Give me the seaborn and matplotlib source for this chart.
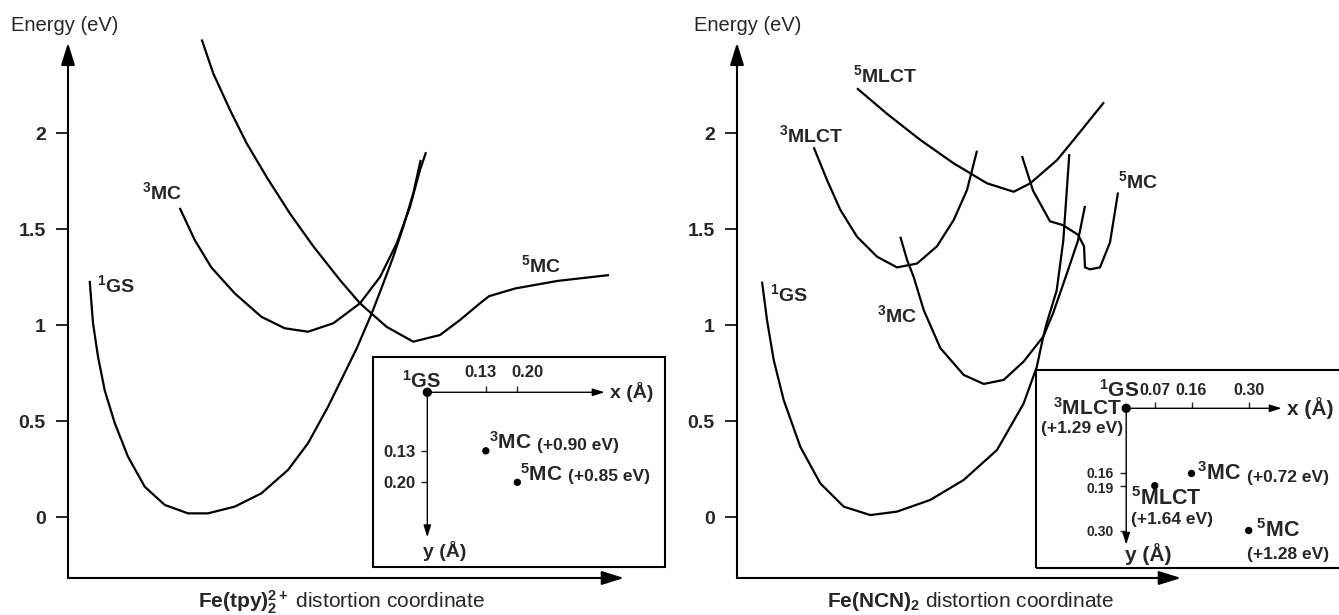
import matplotlib
matplotlib.use("Agg")
import matplotlib.pyplot as plt
from matplotlib.patches import Rectangle
from matplotlib.transforms import ScaledTranslation
import seaborn as sns

# ---------------- data ----------------
# left panel, Fe(tpy)2 2+ : distortion coordinate (arb. units) vs energy (eV)
tpy_gs_x = [21.7, 25, 30, 36.7, 46.7, 60, 76.7, 96.7, 120, 140, 166.7, 193.3, 220, 240, 260,
            288.7, 303.7, 315.3, 325.3, 335.3, 345.3, 352.7]
tpy_gs_e = [1.23, 1.01, 0.835, 0.66, 0.49, 0.314, 0.158, 0.063, 0.019, 0.019, 0.054, 0.123, 0.245,
            0.384, 0.574, 0.878, 1.06, 1.217, 1.356, 1.512, 1.686, 1.86]
tpy_3mc_x = [111.7, 126.7, 143.3, 166.7, 193.3, 216.7, 240, 265.3, 292, 312, 328.7, 342, 352, 358]
tpy_3mc_e = [1.61, 1.443, 1.30, 1.165, 1.043, 0.983, 0.965, 1.009, 1.113, 1.25, 1.425, 1.616, 1.807, 1.90]
tpy_5mc_x = [133.7, 145.3, 162, 178.7, 198.7, 222, 245.3, 272, 292, 318.7, 345.3, 372, 392, 412,
             421, 447, 490, 541]
tpy_5mc_e = [2.487, 2.31, 2.12, 1.946, 1.77, 1.58, 1.41, 1.234, 1.113, 0.99, 0.913, 0.948, 1.026,
             1.113, 1.15, 1.19, 1.23, 1.26]

# right panel, Fe(NCN)2
ncn_gs_x = [25, 30, 36.7, 46.7, 63.3, 83.3, 106.7, 133.3, 160, 193.3, 226.7, 260, 286.5, 299.7,
            306.3, 309.7, 319.7, 326.3, 332.3]
ncn_gs_e = [1.226, 1.026, 0.818, 0.609, 0.366, 0.175, 0.054, 0.01, 0.028, 0.089, 0.193, 0.349,
            0.59, 0.78, 0.94, 1.01, 1.18, 1.44, 1.89]
ncn_3mc_x = [163.3, 170, 176.7, 186.7, 203.3, 226.7, 246.7, 266.7, 286.7, 306.3, 316, 330, 341, 348]
ncn_3mc_e = [1.46, 1.34, 1.25, 1.078, 0.88, 0.74, 0.693, 0.714, 0.81, 0.94, 1.06, 1.27, 1.44, 1.62]
ncn_3mlct_x = [76.7, 90, 103.3, 120, 140, 160, 180, 200, 216.7, 230, 240]
ncn_3mlct_e = [1.926, 1.755, 1.60, 1.46, 1.356, 1.30, 1.32, 1.41, 1.547, 1.703, 1.908]
ncn_5mlct_x = [120, 150, 183.3, 216.7, 250, 276.7, 293.3, 320, 336, 367]
ncn_5mlct_e = [2.233, 2.10, 1.964, 1.842, 1.738, 1.694, 1.738, 1.859, 1.96, 2.16]
ncn_5mc_x = [285, 296, 313, 326, 341, 347, 348, 353, 363, 373, 381]
ncn_5mc_e = [1.88, 1.70, 1.54, 1.52, 1.47, 1.41, 1.30, 1.29, 1.30, 1.43, 1.69]

energy_ticks = [0, 0.5, 1, 1.5, 2]
energy_ticklabels = ["0", "0.5", "1", "1.5", "2"]

# insets: displacement (Å) of each minimum relative to 1GS
tpy_states = ["$^{\\mathbf{3}}$MC", "$^{\\mathbf{5}}$MC"]
tpy_dx = [0.13, 0.20]
tpy_dy = [0.13, 0.20]
tpy_rel_e = ["(+0.90 eV)", "(+0.85 eV)"]
tpy_xticks = [0.13, 0.20]
tpy_yticks = [0.13, 0.20]

ncn_states = ["$^{\\mathbf{3}}$MC", "$^{\\mathbf{5}}$MLCT", "$^{\\mathbf{5}}$MC"]
ncn_dx = [0.16, 0.07, 0.30]
ncn_dy = [0.16, 0.19, 0.30]
ncn_rel_e = ["(+0.72 eV)", "(+1.64 eV)", "(+1.28 eV)"]
ncn_xticks = [0.07, 0.16, 0.30]
ncn_yticks = [0.16, 0.19, 0.30]

# ---------------- style ----------------
sns.set_style("white")
plt.rcParams["font.family"] = ["Liberation Sans", "DejaVu Sans"]
plt.rcParams["mathtext.fontset"] = "custom"
plt.rcParams["mathtext.rm"] = "Liberation Sans"
plt.rcParams["mathtext.bf"] = "Liberation Sans:bold"
plt.rcParams["mathtext.it"] = "Liberation Sans:italic"

W, H = 1339, 615
fig = plt.figure(figsize=(W / 100, H / 100), dpi=100)
fig.patch.set_facecolor("white")


def px_axes(x0, y0, x1, y1):
    return fig.add_axes([x0 / W, 1 - y1 / H, (x1 - x0) / W, (y1 - y0) / H])


def nudge(label, dx_pt, dy_pt):
    label.set_transform(label.get_transform() + ScaledTranslation(dx_pt / 72, dy_pt / 72, fig.dpi_scale_trans))


E_TOP, E_BOT = 2.5, -0.3177


def main_panel(ax, curves, labels, xmax, xlabel, xlabel_x, elabel_x):
    for xs, es in curves:
        sns.lineplot(x=xs, y=es, sort=False, estimator=None, color="black", lw=1.6, ax=ax,
                     solid_joinstyle="round", solid_capstyle="butt")
    ax.set_xlim(0, xmax)
    ax.set_ylim(E_BOT, E_TOP)
    for s in ax.spines.values():
        s.set_visible(False)
    ax.set_xticks([])
    ax.set_yticks(energy_ticks)
    ax.set_yticklabels(energy_ticklabels, fontweight="bold", fontsize=14)
    ax.tick_params(axis="y", direction="out", length=9, width=1.2, pad=7, left=True, color="black")
    ax.set_xlabel("")
    ax.set_ylabel("")
    # arrow axes
    head = dict(arrowstyle="-|>,head_length=0.9,head_width=0.28", color="black",
                lw=1.5, mutation_scale=15, shrinkA=0, shrinkB=0)
    ax.annotate("", xy=(0, 2.47), xytext=(0, E_BOT), xycoords="data", arrowprops=head,
                annotation_clip=False)
    ax.annotate("", xy=(xmax, E_BOT), xytext=(0, E_BOT), xycoords="data", arrowprops=head,
                annotation_clip=False)
    for txt, x, e in labels:
        ax.text(x, e, txt, fontweight="bold", fontsize=14, ha="left", va="center")
    ax.text(elabel_x, E_TOP + 0.06, "Energy (eV)", fontsize=14.5, ha="left", va="center", clip_on=False)
    ax.text(xlabel_x, -0.044, xlabel, fontsize=15, ha="center", va="center",
            transform=ax.transAxes, clip_on=False)


ax_l = px_axes(68, 37, 624, 578)
main_panel(ax_l,
           [(tpy_gs_x, tpy_gs_e), (tpy_3mc_x, tpy_3mc_e), (tpy_5mc_x, tpy_5mc_e)],
           [("$^{\\mathbf{1}}$GS", 29, 1.21), ("$^{\\mathbf{3}}$MC", 74, 1.69), ("$^{\\mathbf{5}}$MC", 453, 1.31)],
           556, "$\\mathbf{Fe(tpy)}_{\\mathbf{2}}^{\\mathbf{2+}}$ distortion coordinate", 0.491, -57)

ax_r = px_axes(737, 37, 1181, 578)
main_panel(ax_r,
           [(ncn_gs_x, ncn_gs_e), (ncn_3mc_x, ncn_3mc_e), (ncn_3mlct_x, ncn_3mlct_e),
            (ncn_5mlct_x, ncn_5mlct_e), (ncn_5mc_x, ncn_5mc_e)],
           [("$^{\\mathbf{1}}$GS", 33, 1.16), ("$^{\\mathbf{3}}$MC", 140, 1.05),
            ("$^{\\mathbf{3}}$MLCT", 42, 1.99), ("$^{\\mathbf{5}}$MLCT", 116, 2.30),
            ("$^{\\mathbf{5}}$MC", 381, 1.75)],
           444, "$\\mathbf{Fe(NCN)}_{\\mathbf{2}}$ distortion coordinate", 0.527, -43)


def inset(ax, xlim, ylim, x_end, y_end, xticks, yticks, xpad, ypad, xtick_fs, ytick_fs):
    ax.set_xlim(*xlim)
    ax.set_ylim(*ylim)
    ax.set_facecolor("white")
    ax.add_patch(Rectangle((0, 0), 1, 1, transform=ax.transAxes, fill=False, lw=1.5,
                           edgecolor="black", clip_on=False))
    for s in ax.spines.values():
        s.set_visible(False)
    ax.spines["top"].set_position(("data", 0))
    ax.spines["left"].set_position(("data", 0))
    ax.xaxis.tick_top()
    ax.set_xticks(xticks)
    ax.set_xticklabels([f"{v:.2f}" for v in xticks], fontweight="bold", fontsize=xtick_fs)
    ax.set_yticks(yticks)
    ax.set_yticklabels([f"{v:.2f}" for v in yticks], fontweight="bold", fontsize=ytick_fs)
    ax.tick_params(axis="x", direction="out", length=4, width=1, pad=xpad, top=True, bottom=False)
    ax.tick_params(axis="y", direction="out", length=4, width=1, pad=ypad, left=True)
    ax.set_xlabel("")
    ax.set_ylabel("")
    arrow = dict(arrowstyle="-|>,head_length=0.8,head_width=0.25", color="black", lw=1,
                 mutation_scale=9, shrinkA=0, shrinkB=0)
    ax.annotate("", xy=(x_end, 0), xytext=(0, 0), arrowprops=arrow)
    ax.annotate("", xy=(0, y_end), xytext=(0, 0), arrowprops=arrow)


# left inset
ax_li = px_axes(373.3, 356.7, 665, 567)
inset(ax_li, (-0.120, 0.528), (0.388, -0.079), 0.394, 0.322, tpy_xticks, tpy_yticks, 5, 4.5, 12, 12)
# the two x tick labels sit apart from their ticks in the reference
xl = ax_li.get_xticklabels()
nudge(xl[0], -4, 0)
nudge(xl[1], 7, 0)
sns.scatterplot(x=[0], y=[0], s=45, color="black", edgecolor="none", ax=ax_li)
sns.scatterplot(x=tpy_dx, y=tpy_dy, s=28, color="black", edgecolor="none", ax=ax_li)
ax_li.annotate("$^{\\mathbf{1}}$GS", xy=(0, 0), xytext=(-4, 8.5), textcoords="offset points",
               fontsize=14.5, fontweight="bold", ha="center", va="center")
ax_li.annotate("x (Å)", xy=(0.394, 0), xytext=(4, 0), textcoords="offset points",
               fontsize=14, fontweight="bold", ha="left", va="center")
ax_li.annotate("y (Å)", xy=(0, 0.322), xytext=(-3, -10), textcoords="offset points",
               fontsize=14, fontweight="bold", ha="left", va="center")
for st, x, y, rel in zip(tpy_states, tpy_dx, tpy_dy, tpy_rel_e):
    t = ax_li.annotate(st, xy=(x, y), xytext=(2, -1.5), textcoords="offset points",
                       fontsize=15, fontweight="bold", ha="left", va="bottom")
    ax_li.annotate(rel, xy=(1, 0), xycoords=t, xytext=(4, 0), textcoords="offset points",
                   fontsize=12.5, fontweight="bold", ha="left", va="bottom")

# right inset
ax_ri = px_axes(1036, 370, 1345, 568)
inset(ax_ri, (-0.221, 0.536), (0.392, -0.094), 0.381, 0.335, ncn_xticks, ncn_yticks, 3.6, 4.8, 11.5, 10)
yl = ax_ri.get_yticklabels()
nudge(yl[0], 0, 1)
nudge(yl[1], 0, -1.5)
sns.scatterplot(x=[0], y=[0], s=45, color="black", edgecolor="none", ax=ax_ri)
sns.scatterplot(x=ncn_dx, y=ncn_dy, s=28, color="black", edgecolor="none", ax=ax_ri)
ax_ri.annotate("$^{\\mathbf{1}}$GS", xy=(0, 0), xytext=(-5, 13.5), textcoords="offset points",
               fontsize=15, fontweight="bold", ha="center", va="center")
ax_ri.annotate("$^{\\mathbf{3}}$MLCT", xy=(0, 0), xytext=(-3, 0.5), textcoords="offset points",
               fontsize=15, fontweight="bold", ha="right", va="center")
ax_ri.annotate("(+1.29 eV)", xy=(0, 0), xytext=(-2, -14.5), textcoords="offset points",
               fontsize=12.5, fontweight="bold", ha="right", va="center")
ax_ri.annotate("x (Å)", xy=(0.381, 0), xytext=(4, 0), textcoords="offset points",
               fontsize=15, fontweight="bold", ha="left", va="center")
ax_ri.annotate("y (Å)", xy=(0, 0.335), xytext=(-1, -7), textcoords="offset points",
               fontsize=15, fontweight="bold", ha="left", va="center")
rel_offsets = [((4, 0), (0, 0)), ((-17, -9.5), (-17, -24.5)), ((5, 0), (-1, -17.5))]
for (st, x, y, rel), (o1, o2) in zip(zip(ncn_states, ncn_dx, ncn_dy, ncn_rel_e), rel_offsets):
    t = ax_ri.annotate(st, xy=(x, y), xytext=o1, textcoords="offset points",
                       fontsize=15.5, fontweight="bold", ha="left", va="center")
    if o2 == (0, 0):
        ax_ri.annotate(rel, xy=(1, 0), xycoords=t, xytext=(4, 0), textcoords="offset points",
                       fontsize=12.5, fontweight="bold", ha="left", va="bottom")
    else:
        ax_ri.annotate(rel, xy=(x, y), xytext=o2, textcoords="offset points",
                       fontsize=12.5, fontweight="bold", ha="left", va="center")

fig.savefig("out.png", dpi=100, facecolor="white")
